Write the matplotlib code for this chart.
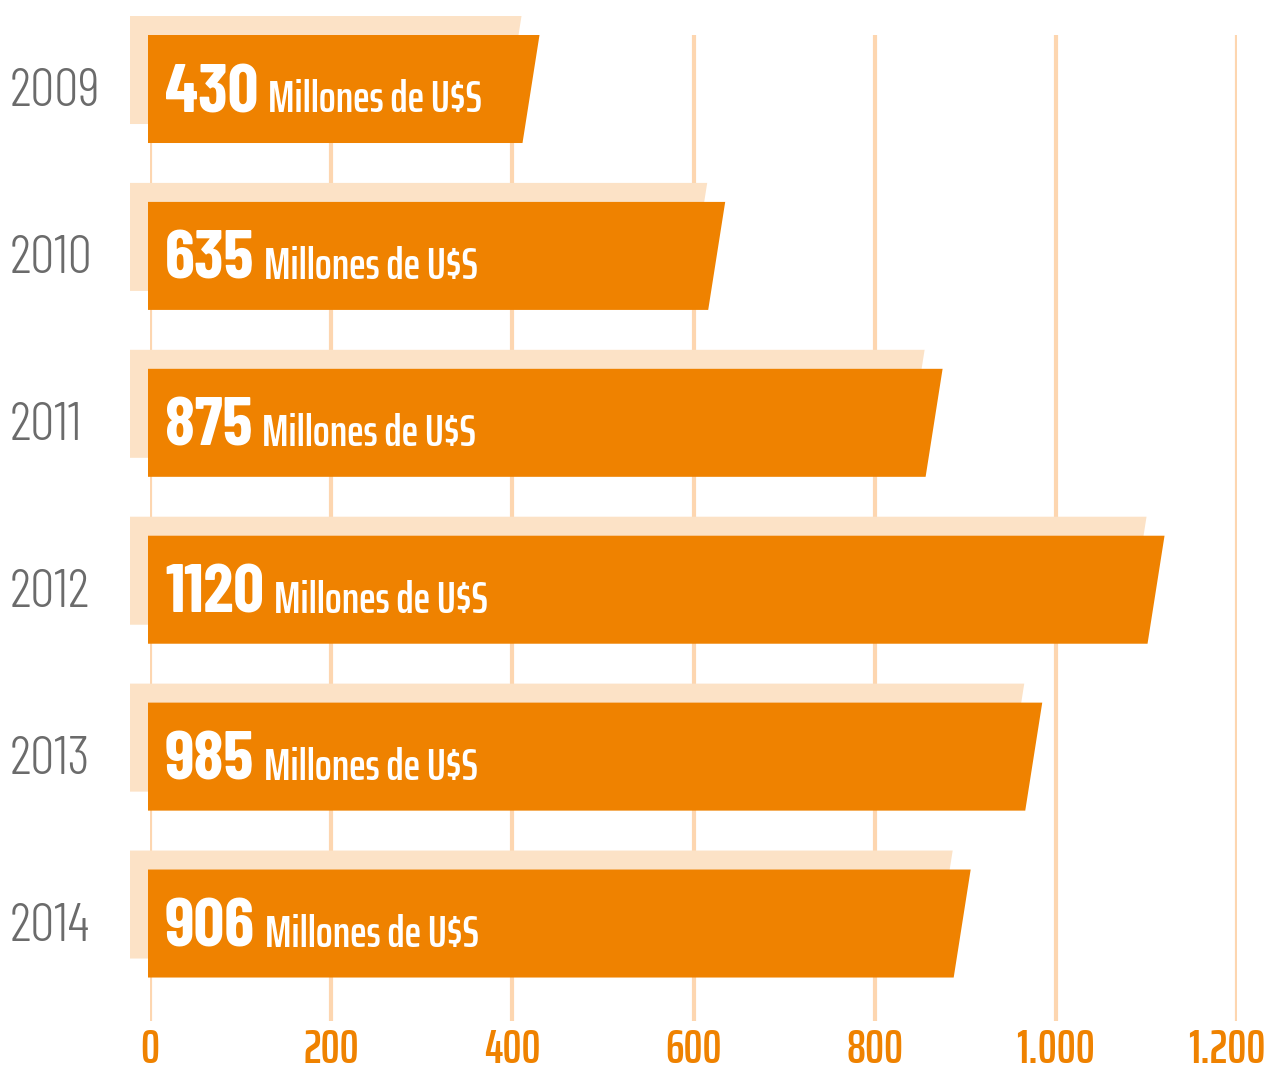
import matplotlib
matplotlib.use("Agg")
import matplotlib.pyplot as plt
from matplotlib.transforms import blended_transform_factory, ScaledTranslation

years = ['2009', '2010', '2011', '2012', '2013', '2014']
values = [430, 635, 875, 1120, 985, 906]
unit_label = "Millones de U$S"
ticks = [0, 200, 400, 600, 800, 1000, 1200]
tick_labels = ['0', '200', '400', '600', '800', '1.000', '1.200']

naranja = '#EF8200'
sombra = '#FCE2C6'
grilla = '#FDD6B0'
gris = '#6B6B6B'
fuente = ['Barlow Condensed', 'DejaVu Sans']
fuente_ext = ['Saira ExtraCondensed', 'Barlow Condensed', 'DejaVu Sans']

W, H = 1272, 1072
fig = plt.figure(figsize=(W / 100, H / 100), dpi=100)
ax = fig.add_axes([150 / W, (H - 1021) / H, 1087 / W, 986 / H])
ax.set_xlim(0, 1200)
ax.set_ylim(5.584, -0.3236)

ux = 1200 / 1087      # unidades por pixel en x
uy = 1 / 166.9        # unidades por pixel en y
alto = 108 * uy
inclin = 17 * ux
izq = -2 * ux
dx, dy = -18 * ux, -19 * uy

for i, v in enumerate(values):
    top, bot = i - alto / 2, i + alto / 2
    # sombra
    xs = [izq + dx, v + dx, v - inclin + dx, izq + dx]
    ys = [top + dy, top + dy, bot + dy, bot + dy]
    ax.fill(xs, ys, color=sombra, lw=0, clip_on=False, zorder=2)
    # barra
    xs = [izq, v, v - inclin, izq]
    ys = [top, top, bot, bot]
    ax.fill(xs, ys, color=naranja, lw=0, clip_on=False, zorder=3)

    t = ax.text(15 * ux, i + 23 * uy, str(v), color='white', fontsize=49,
                fontweight=700, family=fuente, va='baseline', ha='left', zorder=4)
    ax.annotate(unit_label, xy=(1, i + 23 * uy), xycoords=(t, 'data'),
                xytext=(10, 0), textcoords='offset pixels', color='white',
                fontsize=32, fontweight=600, family=fuente_ext, va='baseline',
                ha='left', zorder=4)

trans = blended_transform_factory(fig.transFigure, ax.transData)
for i, y in enumerate(years):
    ax.text(10 / W, i + 17 * uy, y, transform=trans, color=gris, fontsize=39,
            fontweight=300, family=fuente, va='baseline', ha='left')

ax.set_xticks(ticks)
ax.set_xticklabels(tick_labels, fontsize=34, fontweight=600, color=naranja, family=fuente_ext)
ax.tick_params(axis='x', length=0, pad=42 / 1.389)
for lbl in ax.get_xticklabels():
    lbl.set_va('baseline')
# el ultimo rotulo algo corrido a la izquierda, como en el original
ultimo = ax.get_xticklabels()[-1]
ultimo.set_transform(ultimo.get_transform() + ScaledTranslation(-10 / 100, 0, fig.dpi_scale_trans))
ax.set_yticks([])
ax.grid(axis='x', color=grilla, linewidth=3)
ax.set_axisbelow(True)
for s in ax.spines.values():
    s.set_visible(False)

fig.savefig('out.png', dpi=100)
